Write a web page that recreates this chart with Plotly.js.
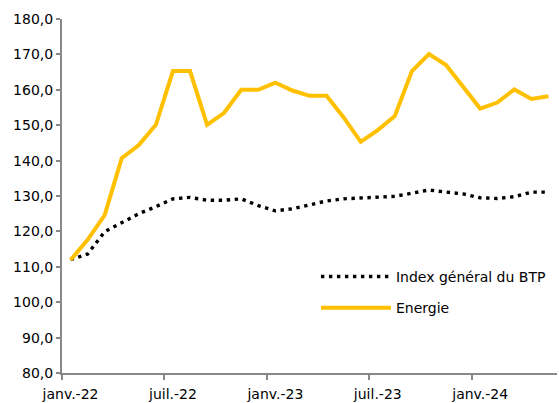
<!DOCTYPE html>
<html>
<head>
<meta charset="utf-8">
<script src="https://cdn.plot.ly/plotly-3.0.1.min.js"></script>
<style>html,body{margin:0;padding:0;background:#fff;}#chart{width:559px;height:403px;}</style>
</head>
<body>
<div id="chart"></div>
<script>
const months = ["janv.-22","févr.-22","mars-22","avr.-22","mai-22","juin-22","juil.-22","août-22","sept.-22","oct.-22","nov.-22","déc.-22",
                "janv.-23","févr.-23","mars-23","avr.-23","mai-23","juin-23","juil.-23","août-23","sept.-23","oct.-23","nov.-23","déc.-23",
                "janv.-24","févr.-24","mars-24","avr.-24","mai-24"];
const indexBTP = [112.0,113.6,119.9,122.5,125.0,127.0,129.2,129.6,128.8,128.8,129.2,127.3,
                  125.8,126.4,127.5,128.6,129.2,129.4,129.5,129.9,130.8,131.7,131.1,130.6,
                  129.5,129.3,129.8,131.1,131.1];
const energie = [111.9,117.6,124.6,140.7,144.4,150.1,165.3,165.3,150.1,153.5,160.0,160.0,
                 162.0,159.8,158.3,158.3,152.2,145.3,148.6,152.6,165.3,170.1,167.0,160.7,
                 154.7,156.4,160.1,157.4,158.2];
const seriesNames = ["Index général du BTP","Energie"];

const font = {family: "DejaVu Sans", size: 14, color: "#000"};

const traces = [
  {x: months, y: indexBTP, name: seriesNames[0], type: "scatter", mode: "lines",
   line: {color: "#000000", width: 3.4, dash: "3.4px,4.6px"}, legendgroup: "a"},
  {x: months, y: energie, name: seriesNames[1], type: "scatter", mode: "lines",
   line: {color: "#FFC000", width: 4}, legendgroup: "b"}
];

const layout = {
  width: 559, height: 403,
  margin: {l: 62, r: 2, t: 19, b: 30},
  paper_bgcolor: "#fff", plot_bgcolor: "#fff",
  font: font,
  separators: ", ",
  showlegend: true,
  legend: {x: 0.513, xanchor: "left", y: 0.3165, yanchor: "top",
           font: font, itemwidth: 70, tracegroupgap: 10, bgcolor: "rgba(0,0,0,0)"},
  xaxis: {type: "category", range: [-0.5, 28.5], tickmode: "linear", tick0: 0, dtick: 6,
          tickson: "boundaries", ticks: "outside", ticklen: 5, tickwidth: 2, tickcolor: "#888",
          tickangle: 0, automargin: false, ticklabelstandoff: 7,
          showline: true, linecolor: "#888", linewidth: 2, showgrid: false, zeroline: false,
          tickfont: font, fixedrange: true},
  yaxis: {range: [80, 180], tickmode: "linear", tick0: 80, dtick: 10, tickformat: ".1f",
          ticks: "outside", ticklen: 4, tickwidth: 2, tickcolor: "#888", automargin: false,
          showline: true, linecolor: "#888", linewidth: 2, showgrid: false, zeroline: false,
          tickfont: font, fixedrange: true}
};

Plotly.newPlot("chart", traces, layout, {displayModeBar: false, staticPlot: true});
</script>
</body>
</html>
